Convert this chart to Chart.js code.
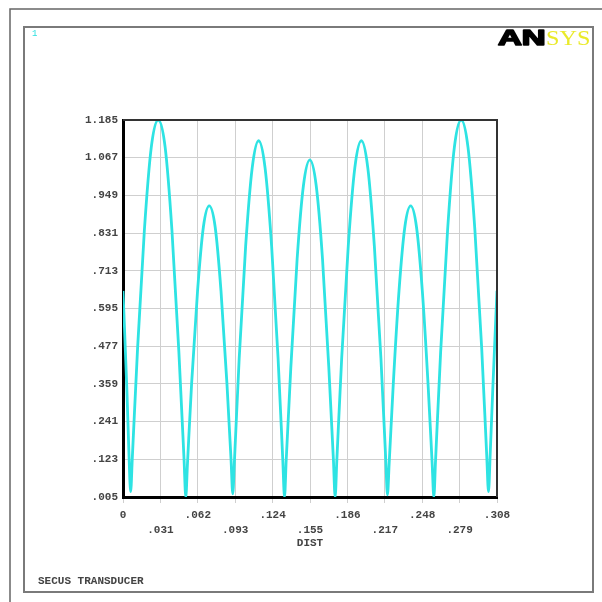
<!DOCTYPE html>
<html lang="en">
<head>
    <meta charset="UTF-8">
    <title>SECUS TRANSDUCER</title>
    <script src="https://cdn.jsdelivr.net/npm/chart.js@4.4.1/dist/chart.umd.min.js"></script>
    <style>
        body { margin: 0; background: #fff; }
        canvas { display: block; }
    </style>
</head>
<body>
<canvas id="chart01" width="602" height="602"></canvas>

<script>
    // distance along path (DIST) and the plotted value
    var distX = [
        0, 0.0032, 0.0049, 0.0063, 0.0077,
        0.0120, 0.0176, 0.0233, 0.0290, 0.0347, 0.0403, 0.0460, 0.0503, 0.0517, 0.0531,
        0.0565, 0.0614, 0.0662, 0.0710, 0.0759, 0.0807, 0.0856, 0.0890, 0.0904, 0.0918,
        0.0957, 0.1010, 0.1064, 0.1117, 0.1170, 0.1224, 0.1277, 0.1316, 0.1330, 0.1344,
        0.1382, 0.1434, 0.1486, 0.1539, 0.1591, 0.1643, 0.1695, 0.1733, 0.1747, 0.1761,
        0.1801, 0.1855, 0.1909, 0.1963, 0.2016, 0.2070, 0.2124, 0.2164, 0.2178, 0.2192,
        0.2226, 0.2273, 0.2321, 0.2369, 0.2417, 0.2465, 0.2512, 0.2546, 0.2560, 0.2574,
        0.2616, 0.2673, 0.2729, 0.2785, 0.2841, 0.2898, 0.2954, 0.2996, 0.3010, 0.3024,
        0.3045, 0.308
    ];
    var amplitude = [
        0.65, 0.34, 0.14, 0.022, 0.13,
        0.47, 0.84, 1.10, 1.185, 1.10, 0.84, 0.46, 0.12, 0.005, 0.11,
        0.36, 0.65, 0.85, 0.916, 0.85, 0.65, 0.36, 0.12, 0.015, 0.12,
        0.44, 0.79, 1.035, 1.12, 1.035, 0.79, 0.44, 0.12, 0.005, 0.12,
        0.41, 0.75, 0.98, 1.06, 0.98, 0.75, 0.41, 0.12, 0.005, 0.12,
        0.44, 0.79, 1.035, 1.12, 1.035, 0.79, 0.44, 0.12, 0.012, 0.11,
        0.36, 0.65, 0.85, 0.916, 0.85, 0.65, 0.36, 0.11, 0.005, 0.12,
        0.46, 0.84, 1.10, 1.185, 1.10, 0.84, 0.47, 0.13, 0.022, 0.14,
        0.34, 0.65
    ];

    var xTicks = [0, 0.0308, 0.0616, 0.0924, 0.1232, 0.154, 0.1848, 0.2156, 0.2464, 0.2772, 0.308];
    var xTickLabels = ["0", ".031", ".062", ".093", ".124", ".155", ".186", ".217", ".248", ".279", ".308"];
    var yTicks = [0.005, 0.123, 0.241, 0.359, 0.477, 0.595, 0.713, 0.831, 0.949, 1.067, 1.185];
    var yTickLabels = [".005", ".123", ".241", ".359", ".477", ".595", ".713", ".831", ".949", "1.067", "1.185"];

    var monoFont = "'Liberation Mono', 'DejaVu Sans Mono', monospace";

    // frame, logo and captions around the plot
    var framePlugin = {
        id: 'ansysFrame',
        beforeDraw: function (chart) {
            var ctx = chart.ctx;
            ctx.save();
            ctx.fillStyle = '#fff';
            ctx.fillRect(0, 0, chart.width, chart.height);
            // page edge
            ctx.strokeStyle = '#666';
            ctx.lineWidth = 1.5;
            ctx.beginPath();
            ctx.moveTo(10, 602);
            ctx.lineTo(10, 9);
            ctx.lineTo(602, 9);
            ctx.stroke();
            // window frame
            ctx.strokeStyle = '#7a7a7a';
            ctx.lineWidth = 2;
            ctx.strokeRect(24, 27, 569, 565);
            ctx.restore();
        },
        afterDraw: function (chart) {
            var ctx = chart.ctx;
            var a = chart.chartArea;
            ctx.save();
            // top and right sides of the plot box
            ctx.strokeStyle = '#333';
            ctx.lineWidth = 2;
            ctx.beginPath();
            ctx.moveTo(a.left, a.top);
            ctx.lineTo(a.right, a.top);
            ctx.lineTo(a.right, a.bottom);
            ctx.stroke();

            ctx.fillStyle = '#2ee0e0';
            ctx.font = '9px ' + monoFont;
            ctx.textBaseline = 'middle';
            ctx.fillText('1', 32, 34);

            // logo, stretched wide like the ANSYS mark
            ctx.textBaseline = 'alphabetic';
            ctx.save();
            ctx.translate(498, 45);
            ctx.scale(1.5, 1);
            ctx.font = 'bold 22px "Liberation Sans", Arial, sans-serif';
            ctx.fillStyle = '#000';
            ctx.strokeStyle = '#000';
            ctx.lineWidth = 1.6;
            ctx.lineJoin = 'round';
            ctx.fillText('AN', 0, 0);
            ctx.strokeText('AN', 0, 0);
            ctx.restore();
            ctx.save();
            ctx.translate(546, 45);
            ctx.scale(1.1, 1);
            ctx.font = '22px "Liberation Serif", serif';
            ctx.fillStyle = '#eaea2a';
            ctx.fillText('SYS', 0, 0);
            ctx.restore();

            ctx.font = 'bold 11px ' + monoFont;
            ctx.fillStyle = '#444';
            ctx.textBaseline = 'middle';
            ctx.fillText('SECUS TRANSDUCER', 38, 581);
            ctx.restore();
        }
    };

    var points = distX.map(function (x, i) {
        return {x: x, y: amplitude[i]};
    });

    new Chart(document.getElementById('chart01'), {
        type: 'line',
        data: {
            datasets: [{
                data: points,
                borderColor: '#2ee3e3',
                borderWidth: 2.8,
                pointRadius: 0,
                cubicInterpolationMode: 'monotone',
                fill: false
            }]
        },
        options: {
            responsive: false,
            animation: false,
            devicePixelRatio: 1,
            layout: {padding: {left: 24, top: 120, right: 105, bottom: 45}},
            plugins: {legend: {display: false}, tooltip: {enabled: false}},
            scales: {
                x: {
                    type: 'linear',
                    min: 0,
                    max: 0.308,
                    afterBuildTicks: function (scale) {
                        scale.ticks = xTicks.map(function (v) { return {value: v}; });
                    },
                    afterFit: function (scale) { scale.height = 60; },
                    grid: {color: '#cfcfcf', lineWidth: 1, drawTicks: true, tickLength: 6, tickColor: '#cfcfcf'},
                    border: {color: '#000', width: 3},
                    ticks: {
                        autoSkip: false,
                        maxRotation: 0,
                        padding: 5,
                        color: '#444',
                        font: {family: monoFont, size: 11, weight: 'bold', lineHeight: 1.35},
                        callback: function (v, i) {
                            return i % 2 ? ['', xTickLabels[i]] : xTickLabels[i];
                        }
                    },
                    title: {
                        display: true,
                        text: 'DIST',
                        color: '#444',
                        font: {family: monoFont, size: 11, weight: 'bold', lineHeight: 1.2},
                        padding: {top: 0, bottom: 7}
                    }
                },
                y: {
                    min: 0.005,
                    max: 1.185,
                    afterBuildTicks: function (scale) {
                        scale.ticks = yTicks.map(function (v) { return {value: v}; });
                    },
                    afterFit: function (scale) { scale.width = 99; },
                    grid: {color: '#cfcfcf', lineWidth: 1, drawTicks: false},
                    border: {color: '#000', width: 3},
                    ticks: {
                        autoSkip: false,
                        padding: 5,
                        color: '#444',
                        font: {family: monoFont, size: 11, weight: 'bold'},
                        callback: function (v, i) { return yTickLabels[i]; }
                    }
                }
            }
        },
        plugins: [framePlugin]
    });
</script>
</body>
</html>
